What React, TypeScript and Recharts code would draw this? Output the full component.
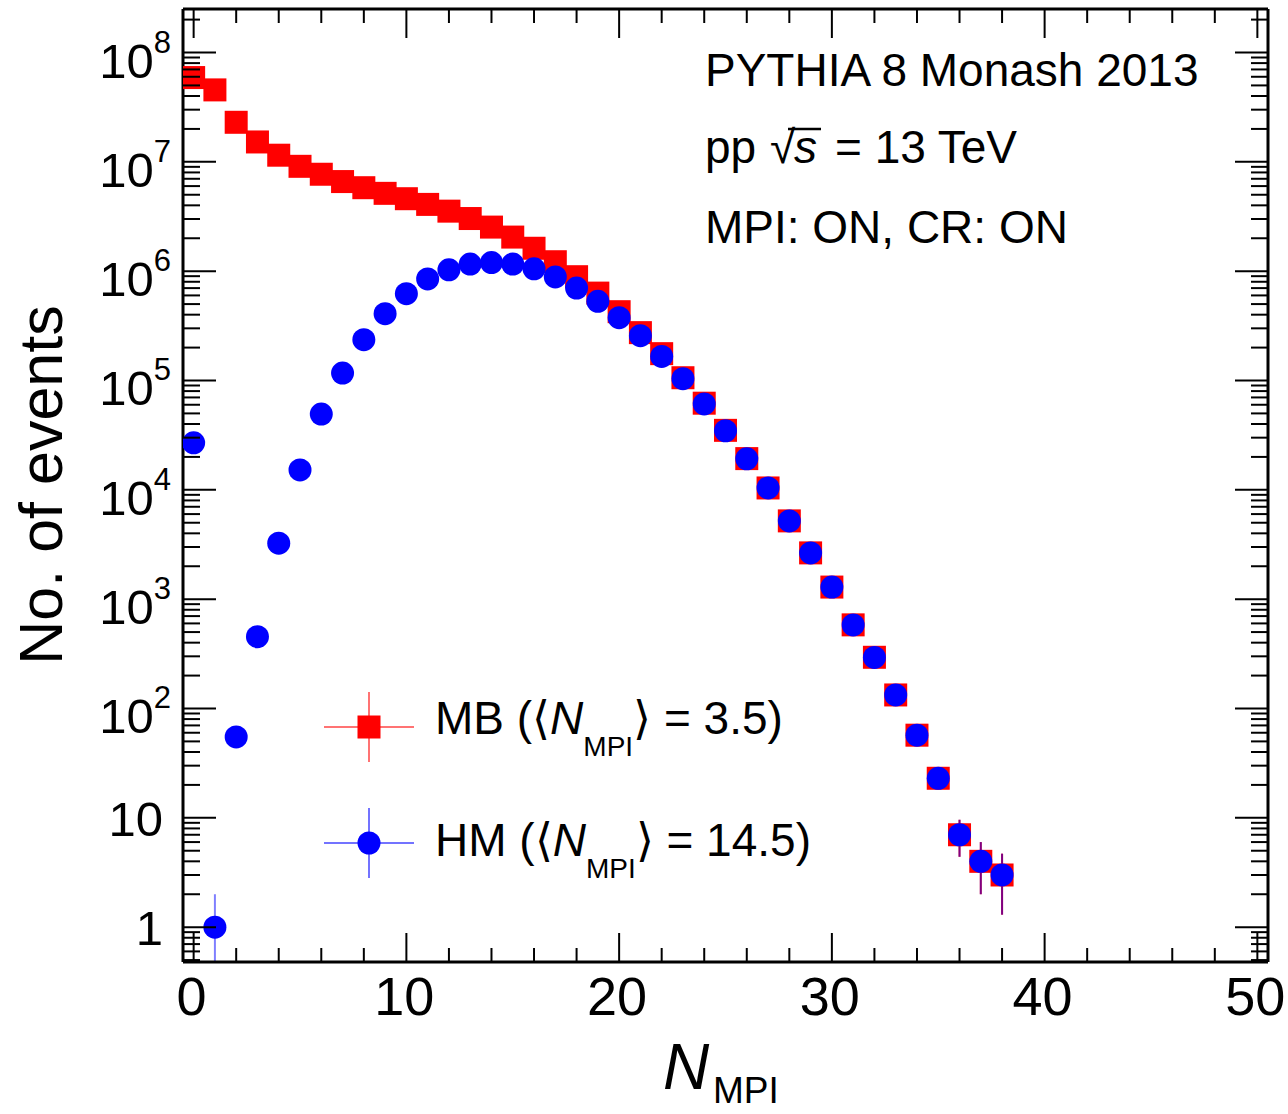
import React from "react";
import {
  ScatterChart,
  Scatter,
  XAxis,
  YAxis,
  ErrorBar,
  ReferenceLine,
  Legend,
} from "recharts";

// N_MPI bins
const N_MPI = [
  0, 1, 2, 3, 4, 5, 6, 7, 8, 9, 10, 11, 12, 13, 14, 15, 16, 17, 18, 19, 20,
  21, 22, 23, 24, 25, 26, 27, 28, 29, 30, 31, 32, 33, 34, 35, 36, 37, 38,
];

// minimum bias (red squares)
const MB_EVENTS = [
  5.9e7, 4.55e7, 2.3e7, 1.52e7, 1.15e7, 9.1e6, 7.7e6, 6.6e6, 5.8e6, 5.15e6,
  4.6e6, 4.08e6, 3.54e6, 3.03e6, 2.53e6, 2.05e6, 1.62e6, 1.22e6, 8.9e5, 6.3e5,
  4.26e5, 2.74e5, 1.76e5, 1.06e5, 6.2e4, 3.5e4, 1.93e4, 1.04e4, 5.2e3, 2.65e3,
  1.29e3, 582, 294, 133, 57, 23, 7, 4, 3,
];

// high multiplicity (blue circles)
const HM_EVENTS = [
  2.69e4, 1, 55, 454, 3.25e3, 1.52e4, 4.93e4, 1.17e5, 2.36e5, 4.08e5, 6.22e5,
  8.5e5, 1.03e6, 1.16e6, 1.2e6, 1.16e6, 1.05e6, 8.85e5, 7.0e5, 5.3e5, 3.75e5,
  2.57e5, 1.66e5, 1.04e5, 6.1e4, 3.47e4, 1.92e4, 1.04e4, 5.2e3, 2.65e3, 1.29e3,
  581, 293, 133, 57, 23, 7, 4, 3,
];

// statistical errors (only the visible ones are non-zero)
const MB_ERR: (number | [number, number])[] = [
  0, 0, 0, 0, 0, 0, 0, 0, 0, 0, 0, 0, 0, 0, 0, 0, 0, 0, 0, 0, 0, 0, 0, 0, 0,
  0, 0, 0, 0, 0, 0, 0, 0, 0, 7.5, 4.8, 2.6, 2, 1.7,
];
const HM_ERR: (number | [number, number])[] = [
  0, [0.52, 1], 0, 0, 0, 0, 0, 0, 0, 0, 0, 0, 0, 0, 0, 0, 0, 0, 0, 0, 0, 0, 0,
  0, 0, 0, 0, 0, 0, 0, 0, 0, 0, 0, 7.5, 4.8, 2.6, 2, 1.7,
];

const X_TICKS = [
  0, 2, 4, 6, 8, 10, 12, 14, 16, 18, 20, 22, 24, 26, 28, 30, 32, 34, 36, 38,
  40, 42, 44, 46, 48, 50,
];
const X_MAJOR = [0, 10, 20, 30, 40, 50];
const X_DOMAIN: [number, number] = [-0.5, 50.5];
const Y_DOMAIN: [number, number] = [0.48, 2.5e8];

const Y_TICKS: number[] = [];
for (let n = -1; n <= 8; n++) {
  for (let m = 1; m <= 9; m++) {
    const v = m * Math.pow(10, n);
    if (v >= Y_DOMAIN[0] && v <= Y_DOMAIN[1]) Y_TICKS.push(v);
  }
}

const mbData = N_MPI.map((x, i) => ({ x, y: MB_EVENTS[i], err: MB_ERR[i] }));
const hmData = N_MPI.map((x, i) => ({ x, y: HM_EVENTS[i], err: HM_ERR[i] }));

const FONT = '"Liberation Sans", Arial, Helvetica, sans-serif';
const PLOT_W = 1085;
const PLOT_H = 953;

function XTick(props: any) {
  const { x, y, payload } = props;
  const v = payload.value;
  const major = X_MAJOR.includes(v);
  const len = major ? 29 : 14;
  return (
    <g>
      <line x1={x} y1={y} x2={x} y2={y - len} stroke="#000" strokeWidth={2} />
      <line x1={x} y1={y - PLOT_H} x2={x} y2={y - PLOT_H + len} stroke="#000" strokeWidth={2} />
      {major && (
        <text x={x - 2} y={y + 53} textAnchor="middle" fontSize={54} fontFamily={FONT} fill="#000">
          {v}
        </text>
      )}
    </g>
  );
}

function YTick(props: any) {
  const { x, y, payload } = props;
  const v = payload.value;
  const lg = Math.log10(v);
  const n = Math.round(lg);
  const major = Math.abs(lg - n) < 1e-6;
  const len = major ? 33 : 17;
  let label: React.ReactNode = null;
  if (major) {
    if (n === 0 || n === 1) {
      label = (
        <text x={x - 20} y={y + 18} textAnchor="end" fontSize={49} fontFamily={FONT} fill="#000">
          {n === 0 ? "1" : "10"}
        </text>
      );
    } else {
      label = (
        <text x={x - 12} y={y + 25} textAnchor="end" fontSize={49} fontFamily={FONT} fill="#000">
          10
          <tspan dy={-25} fontSize={31}>{n}</tspan>
        </text>
      );
    }
  }
  return (
    <g>
      <line x1={x} y1={y} x2={x + len} y2={y} stroke="#000" strokeWidth={2} />
      <line x1={x + PLOT_W} y1={y} x2={x + PLOT_W - len} y2={y} stroke="#000" strokeWidth={2} />
      {label}
    </g>
  );
}

const Square = (props: any) => (
  <rect x={props.cx - 11.5} y={props.cy - 11.5} width={23} height={23} fill="#ff0000" />
);
const Dot = (props: any) => <circle cx={props.cx} cy={props.cy} r={11.5} fill="#0000ff" />;

function LegendBox() {
  const entries = [
    { cy: 47, ty: 54, color: "#ff0000", lineColor: "rgba(255,0,0,0.55)", name: "MB", mean: "3.5", square: true },
    { cy: 163, ty: 176, color: "#0000ff", lineColor: "rgba(0,0,255,0.55)", name: "HM", mean: "14.5", square: false },
  ];
  return (
    <svg width={520} height={210} style={{ fontFamily: FONT }}>
      {entries.map((e) => (
        <g key={e.name}>
          <line x1={4} y1={e.cy} x2={94} y2={e.cy} stroke={e.lineColor} strokeWidth={2} />
          <line x1={49} y1={e.cy - 35} x2={49} y2={e.cy + 35} stroke={e.lineColor} strokeWidth={2} />
          {e.square ? (
            <rect x={37.5} y={e.cy - 11.5} width={23} height={23} fill={e.color} />
          ) : (
            <circle cx={49} cy={e.cy} r={11.5} fill={e.color} />
          )}
          <text x={115} y={e.ty} fontSize={46} fill="#000">
            {e.name} (
            <tspan fontFamily="DejaVu Sans" fontWeight={200}>⟨</tspan>
            <tspan fontStyle="italic">N</tspan>
            <tspan fontSize={28} dy={22}>MPI</tspan>
            <tspan dy={-22} fontFamily="DejaVu Sans" fontWeight={200}>⟩</tspan>
            {" = " + e.mean + ")"}
          </text>
        </g>
      ))}
    </svg>
  );
}

export default function App() {
  return (
    <div style={{ position: "absolute", left: 0, top: 0, width: 1288, height: 1114, background: "#fff", overflow: "hidden" }}>
      <ScatterChart width={1288} height={1114} margin={{ top: 9, right: 20, bottom: 0, left: 0 }}>
        <XAxis
          type="number"
          dataKey="x"
          domain={X_DOMAIN}
          allowDataOverflow
          ticks={X_TICKS}
          interval={0}
          tickSize={0}
          tickMargin={0}
          tickLine={false}
          tick={(p: any) => <XTick {...p} />}
          axisLine={{ stroke: "#000", strokeWidth: 3 }}
          height={152}
        />
        <YAxis
          type="number"
          dataKey="y"
          scale="log"
          domain={Y_DOMAIN}
          allowDataOverflow
          ticks={Y_TICKS}
          interval={0}
          tickSize={0}
          tickMargin={0}
          tickLine={false}
          tick={(p: any) => <YTick {...p} />}
          axisLine={{ stroke: "#000", strokeWidth: 3 }}
          width={183}
        />
        <ReferenceLine y={Y_DOMAIN[1]} stroke="#000" strokeWidth={3} ifOverflow="visible" />
        <ReferenceLine x={X_DOMAIN[1]} stroke="#000" strokeWidth={3} ifOverflow="visible" />
        <Scatter name="MB" data={mbData} shape={Square} isAnimationActive={false}>
          <ErrorBar dataKey="err" direction="y" width={0} stroke="#ff0000" strokeWidth={2} isAnimationActive={false} />
        </Scatter>
        <Scatter name="HM" data={hmData} shape={Dot} isAnimationActive={false}>
          <ErrorBar dataKey="err" direction="y" width={0} stroke="rgba(0,0,255,0.5)" strokeWidth={2} isAnimationActive={false} />
        </Scatter>
        <Legend
          layout="vertical"
          align="center"
          verticalAlign="middle"
          content={() => <LegendBox />}
          wrapperStyle={{ left: 320, top: 680, width: 520, height: 210 }}
        />
      </ScatterChart>
      <svg
        width={1288}
        height={1114}
        style={{ position: "absolute", left: 0, top: 0, pointerEvents: "none", fontFamily: FONT }}
      >
        <text transform="translate(62,485) rotate(-90)" textAnchor="middle" fontSize={61} fill="#000">
          No. of events
        </text>
        <text x={663} y={1089} fontSize={64} fontStyle="italic" fill="#000">N</text>
        <text x={713} y={1103} fontSize={37} fill="#000">MPI</text>
        <text x={705} y={86} fontSize={46} fill="#000">PYTHIA 8 Monash 2013</text>
        <text x={705} y={163} fontSize={46} fill="#000">pp</text>
        <text x={770} y={163} fontSize={46} fill="#000">√</text>
        <line x1={788} y1={129} x2={821} y2={129} stroke="#000" strokeWidth={2.5} />
        <text x={794} y={163} fontSize={46} fontStyle="italic" fill="#000">s</text>
        <text x={835} y={163} fontSize={46} fill="#000">= 13 TeV</text>
        <text x={705} y={243} fontSize={46} fill="#000">MPI: ON, CR: ON</text>
      </svg>
    </div>
  );
}
